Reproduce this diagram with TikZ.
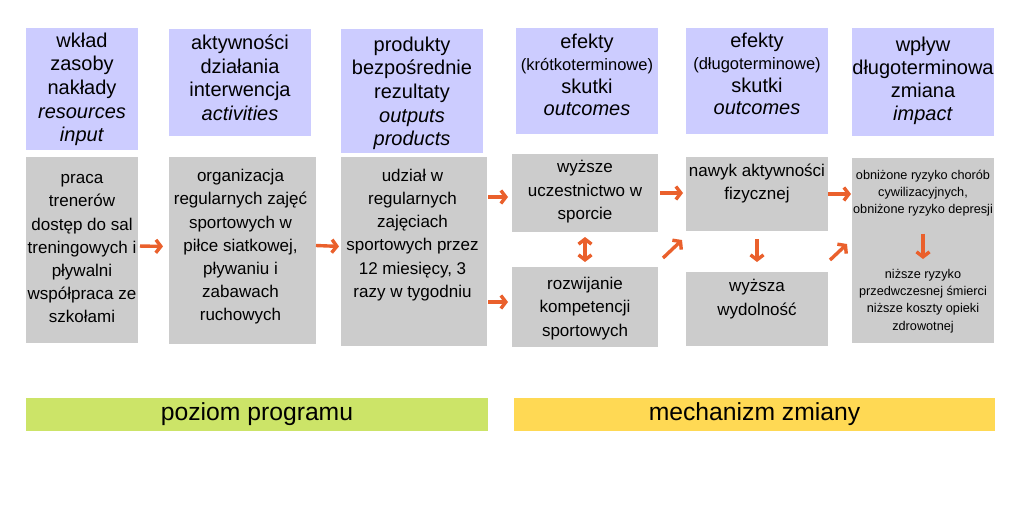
\documentclass[tikz,border=0pt]{standalone}
\usepackage{fontspec}
\setmainfont{Liberation Sans}
\usetikzlibrary{positioning,arrows.meta,calc}
\definecolor{myblue}{RGB}{204,204,255}
\definecolor{mygrey}{RGB}{204,204,204}
\definecolor{mygreen}{RGB}{204,228,104}
\definecolor{myyellow}{RGB}{255,217,84}
\definecolor{myorange}{RGB}{234,96,44}

\begin{document}
\begin{tikzpicture}[x=1pt,y=-1pt,
  every node/.style={inner sep=0pt,outer sep=0pt},
  hbox/.style={fill=myblue},
  cbox/.style={fill=mygrey},
  bar/.style={minimum height=33pt,font=\fontsize{24.7}{28}\selectfont},
  htext/.style={align=center,font=\fontsize{20}{23.7}\selectfont},
  ctext/.style={align=center,font=\fontsize{17}{23.2}\selectfont},
  stext/.style={align=center,font=\fontsize{12.7}{17.3}\selectfont},
  arr/.style={draw=myorange,line width=3.4pt,-{Straight Barb[length=5pt,width=13pt]}},
  darr/.style={arr,{Straight Barb[length=5pt,width=13pt]}-{Straight Barb[length=5pt,width=13pt]}}
]
\path[use as bounding box,fill=white] (0,0) rectangle (1024,512);

% the header boxes
\node[hbox,minimum width=112pt,minimum height=122pt] (h1) at (82,89) {};
\node[hbox,minimum width=142pt,minimum height=107pt] (h2) at (240,82.5) {};
\node[hbox,minimum width=142pt,minimum height=124pt] (h3) at (412,91) {};
\node[hbox,minimum width=142pt,minimum height=106pt] (h4) at (587,81) {};
\node[hbox,minimum width=142pt,minimum height=106pt] (h5) at (757,81) {};
\node[hbox,minimum width=142pt,minimum height=108pt] (h6) at (923,82) {};

\node[htext,below=4.6pt of h1.north] (h1t) {wkład\\zasoby\\nakłady\\\textit{resources}\\\textit{input}};
\node[htext,below=5.6pt of h2.north] (h2t) {aktywności\\działania\\interwencja\\\textit{activities}};
\node[htext,below=7.6pt of h3.north] (h3t) {produkty\\bezpośrednie\\rezultaty\\\textit{outputs}\\\textit{products}};
\node[htext,font=\fontsize{20}{22.5}\selectfont,below=5.6pt of h4.north] (h4t)
  {efekty\\{\fontsize{16.5}{18}\selectfont(krótkoterminowe)}\\skutki\\\textit{outcomes}};
\node[htext,font=\fontsize{20}{22.5}\selectfont,below=4.6pt of h5.north] (h5t)
  {efekty\\{\fontsize{16.5}{18}\selectfont(długoterminowe)}\\skutki\\\textit{outcomes}};
\node[htext,font=\fontsize{20}{23}\selectfont,below=8.6pt of h6.north] (h6t) {wpływ\\długoterminowa\\zmiana\\\textit{impact}};

% the content boxes
\node[cbox,minimum width=112pt,minimum height=186pt] (c1) at (82,250) {};
\node[cbox,minimum width=147pt,minimum height=187pt] (c2) at (242.5,250.5) {};
\node[cbox,minimum width=146pt,minimum height=189pt] (c3) at (414,251.5) {};
\node[cbox,minimum width=146pt,minimum height=78pt] (c4a) at (585,193) {};
\node[cbox,minimum width=146pt,minimum height=80pt] (c4b) at (585,307) {};
\node[cbox,minimum width=142pt,minimum height=74pt] (c5a) at (757,194) {};
\node[cbox,minimum width=142pt,minimum height=74pt] (c5b) at (757,309) {};
\node[cbox,minimum width=142pt,minimum height=185pt] (c6) at (923,250.5) {};

\node[ctext,below=17.6pt of c1.north] (c1t) {praca\\trenerów\\dostęp do sal\\treningowych i\\pływalni\\współpraca ze\\szkołami};
\node[ctext,below=12.3pt of c2.north,xshift=-2pt] (c2t) {organizacja\\regularnych zajęć\\sportowych w\\piłce siatkowej,\\pływaniu i\\zabawach\\ruchowych};
\node[ctext,below=12pt of c3.north,xshift=-1.5pt] (c3t) {udział w\\regularnych\\zajęciach\\sportowych przez\\12 miesięcy, 3\\razy w tygodniu};
\node[ctext,below=6.5pt of c4a.north] (c4at) {wyższe\\uczestnictwo w\\sporcie};
\node[ctext,below=10.3pt of c4b.north] (c4bt) {rozwijanie\\kompetencji\\sportowych};
\node[ctext,below=7pt of c5a.north] (c5at) {nawyk aktywności\\fizycznej};
\node[ctext,below=7.5pt of c5b.north] (c5bt) {wyższa\\wydolność};
\node[stext,below=12pt of c6.north] (c6t) {obniżone ryzyko chorób\\cywilizacyjnych,\\obniżone ryzyko depresji};
\node[stext,anchor=north] (c6b) at (923,269) {niższe ryzyko\\przedwczesnej śmierci\\niższe koszty opieki\\zdrowotnej};

% the levels
\node[bar,fill=mygreen,minimum width=462pt] (prog) at (257,414.5) {poziom programu};
\node[bar,fill=myyellow,minimum width=481pt] (mech) at (754.5,414.5) {mechanizm zmiany};

% the arrows
\draw[arr,shorten <=2pt,shorten >=6pt] ([shift={(0,-4)}]c1.east) -- ([shift={(0,-4)}]c2.west);
\draw[arr,shorten >=2pt] ([shift={(0,-5)}]c2.east) -- ([shift={(0,-5)}]c3.west);
\draw[arr,shorten <=1pt,shorten >=4pt] ($(c3.east |- c4a.west)+(0,4)$) -- ([shift={(0,4)}]c4a.west);
\draw[arr,shorten <=1pt,shorten >=4pt] ($(c3.east |- c4b.west)+(0,-5)$) -- ([shift={(0,-5)}]c4b.west);
\draw[darr,shorten <=5pt,shorten >=5pt] (c4a.south) -- (c4b.north);
\draw[arr,shorten <=2pt,shorten >=3pt] (c4a.east) -- (c4a.east -| c5a.west);
\draw[arr] ([shift={(5,-9)}]c4b.north east) -- ([shift={(-4,9)}]c5a.south west);
\draw[arr,shorten <=8pt,shorten >=10pt] (c5a.south) -- (c5b.north);
\draw[arr,shorten >=1pt] (c5a.east) -- (c5a.east -| c6.west);
\draw[arr] ([shift={(2,-12)}]c5b.north east) -- ([shift={(-5,-6.5)}]c6.west);
\draw[arr,shorten <=17pt,shorten >=10pt] (c6t.south) -- (c6b.north);
\end{tikzpicture}
\end{document}
